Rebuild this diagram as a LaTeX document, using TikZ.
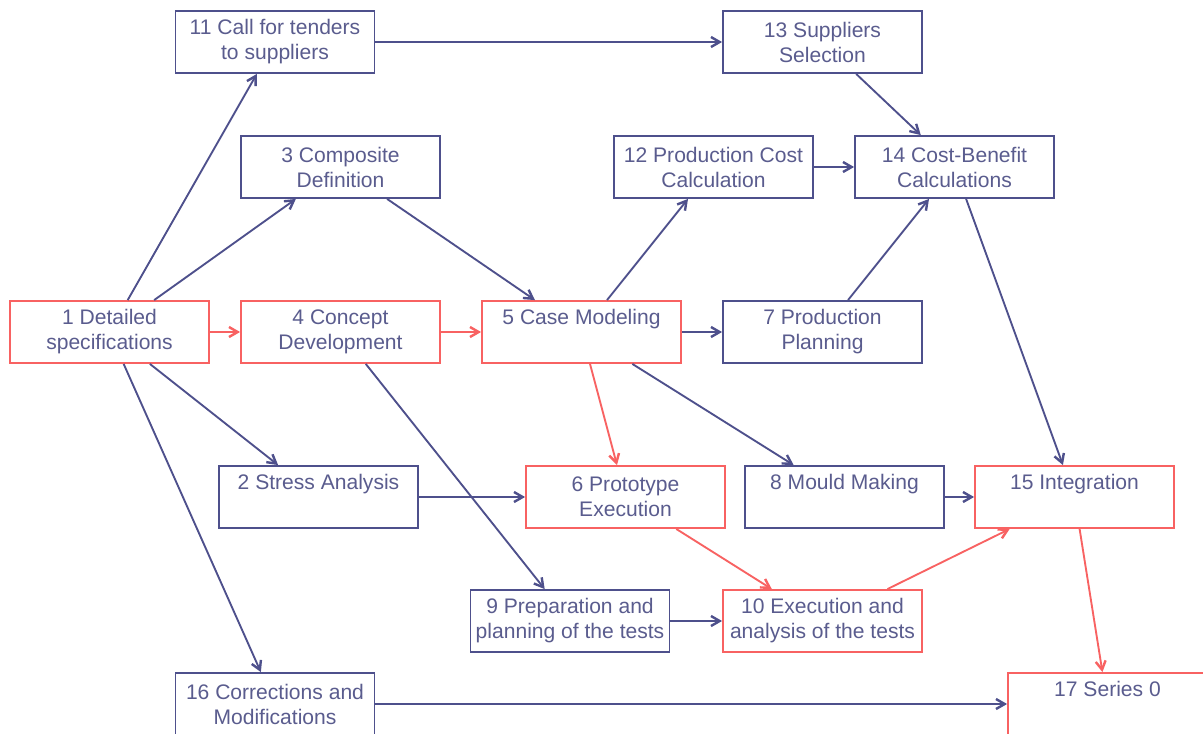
\documentclass[tikz,border=0pt]{standalone}
\usepackage{fontspec}
\setmainfont{Liberation Sans}
\usetikzlibrary{arrows.meta}

\definecolor{taskblue}{HTML}{4E508C}
\definecolor{textblue}{HTML}{5A5C8E}
\definecolor{critred}{HTML}{F86262}

\begin{document}
\begin{tikzpicture}[x=0.75pt, y=-0.75pt,
        task/.style={draw=taskblue, line width=1.4pt, fill=white, text=textblue,
            minimum width=149.25pt, minimum height=46.5pt, inner sep=0pt,
            align=center, font=\fontsize{15.8}{18.75}\selectfont},
        crit/.style={task, draw=critred},
        dep/.style={draw=taskblue, line width=1.4pt,
            -{Straight Barb[length=6.5pt, width=7.5pt, line width=1.8pt]}},
        critdep/.style={dep, draw=critred}]

        \clip (0,0) rectangle (1203,733);
        \fill[white] (0,0) rectangle (1203,733);

        % top row
        \node[task] (t11) at (275,42) {11 Call for tenders\\to suppliers};
        \node[task] (t13) at (822.5,42) {13 Suppliers\\Selection};

        \node[task] (t3) at (340.5,167) {3 Composite\\Definition};
        \node[task] (t12) at (713.5,167) {12 Production Cost\\Calculation};
        \node[task] (t14) at (954.5,167) {14 Cost-Benefit\\Calculations};

        % middle row
        \node[crit] (t1) at (109.5,332) {1 Detailed\\specifications};
        \node[crit] (t4) at (340.5,332) {4 Concept\\Development};
        \node[crit] (t5) at (581.5,332) {5 Case Modeling\\\vphantom{g}};
        \node[task] (t7) at (822.5,332) {7 Production\\Planning};

        \node[task] (t2) at (318.5,497) {2 Stress Analysis\\\vphantom{g}};
        \node[crit] (t6) at (625.5,497) {6 Prototype\\Execution};
        \node[task] (t8) at (844.5,497) {8 Mould Making\\\vphantom{g}};
        \node[crit] (t15) at (1074.5,497) {15 Integration\\\vphantom{g}};

        % bottom rows
        \node[task] (t9) at (570,621) {9 Preparation and\\planning of the tests};
        \node[crit] (t10) at (822.5,621) {10 Execution and\\analysis of the tests};

        \node[task] (t16) at (275,704) {16 Corrections and\\Modifications};
        \node[crit] (t17) at (1107.5,704) {17 Series 0\\\vphantom{g}};

        % dependencies
        \foreach \a/\b in {t1/t11, t1/t3, t1/t2, t1/t16, t11/t13, t13/t14,
                t3/t5, t4/t9, t5/t12, t5/t7, t5/t8, t12/t14, t7/t14,
                t14/t15, t2/t6, t8/t15, t9/t10, t16/t17}
            \draw[dep] (\a) -- (\b);

        % critical path
        \foreach \a/\b in {t1/t4, t4/t5, t5/t6, t6/t10, t10/t15, t15/t17}
            \draw[critdep] (\a) -- (\b);

\end{tikzpicture}
\end{document}
